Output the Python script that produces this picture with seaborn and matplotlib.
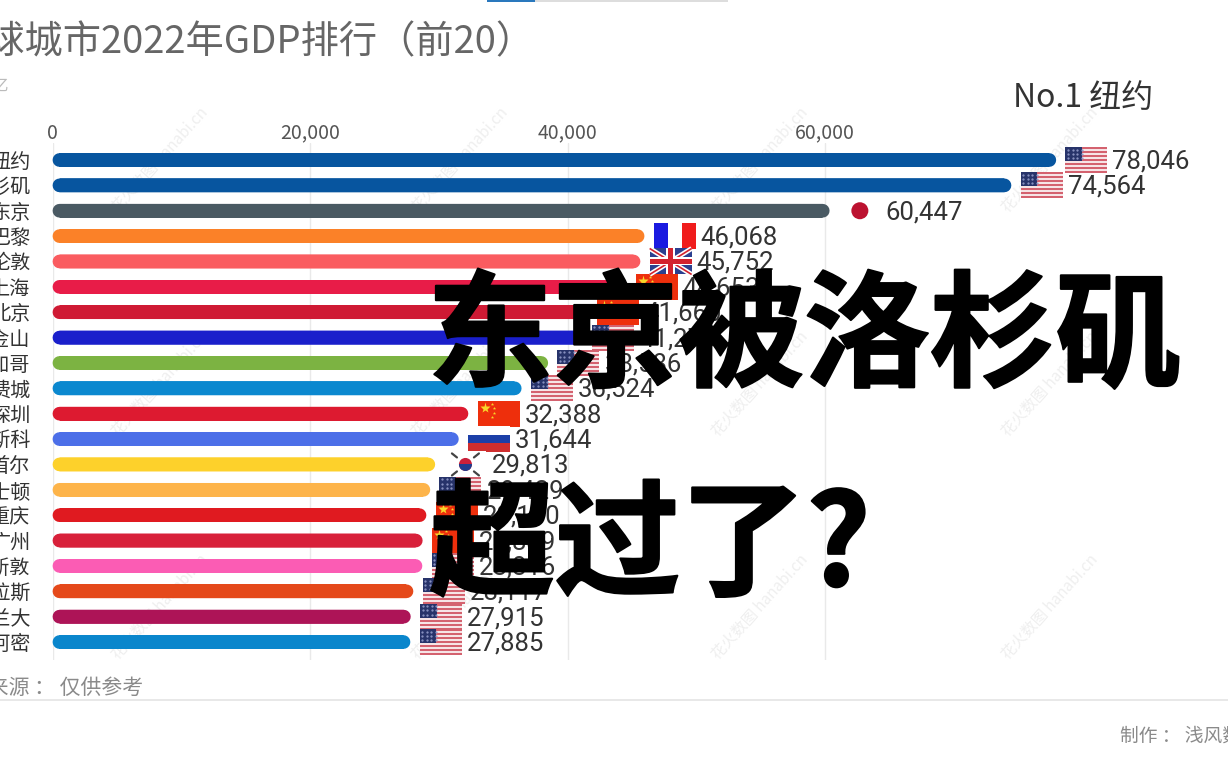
import matplotlib
matplotlib.use("Agg")
import matplotlib.pyplot as plt
import matplotlib.patheffects as pe
from matplotlib.patches import Rectangle, Circle
import pandas as pd
import seaborn as sns

cities = ["纽约", "洛杉矶", "东京", "巴黎", "伦敦", "上海", "北京", "旧金山", "芝加哥", "费城",
          "深圳", "莫斯科", "首尔", "波士顿", "重庆", "广州", "休斯敦", "达拉斯", "亚特兰大", "迈阿密"]
gdp = [78046, 74564, 60447, 46068, 45752, 44653, 41660, 41270, 38586, 36524,
       32388, 31644, 29813, 29429, 29130, 28839, 28816, 28117, 27915, 27885]
countries = ["us", "us", "jp", "fr", "uk", "cn", "cn", "us", "us", "us",
             "cn", "ru", "kr", "us", "cn", "cn", "us", "us", "us", "us"]
bar_colors = ["#07559f", "#07559f", "#4a5a63", "#fb8128", "#fa5c60", "#e81c48", "#cf1a34", "#1a1fcb",
              "#7cb342", "#0b88cf", "#dd1a30", "#4c6fe8", "#fdd12b", "#fdb44a", "#e01a20", "#d8203a",
              "#fb5cb4", "#e5491a", "#ad1457", "#0a86cc"]
x_ticks = [0, 20000, 40000, 60000]
x_tick_labels = ["0", "20,000", "40,000", "60,000"]
title = "全球城市2022年GDP排行（前20）"
unit = "单位：亿"
leader = "No.1 纽约"
source = "数据来源 ： 仅供参考"
credit = "制作 ： 浅风数据"
headline_1 = "东京被洛杉矶"
headline_2 = "超过了?"
watermark = "花火数图 hanabi.cn"

W, H = 1228, 768
CJK = ["Noto Sans CJK SC", "DejaVu Sans"]
sns.set_theme(style="white")
plt.rcParams["font.family"] = CJK

fig = plt.figure(figsize=(W / 100, H / 100), dpi=100, facecolor="white")
L, R, T, B = 52.6, 1228.0, 143.0, 660.0
ax = fig.add_axes([L / W, 1 - B / H, (R - L) / W, (B - T) / H])
df = pd.DataFrame({"city": cities, "gdp": gdp})
sns.barplot(data=df, x="gdp", y="city", hue="city", palette=bar_colors, order=cities, hue_order=cities,
            dodge=False, legend=False, width=0.52, orient="h", ax=ax, zorder=3, saturation=1)

px_per_x = 0.012875
px_per_y = 25.37
ax.set_xlim(0, (R - L) / px_per_x)
ax.set_ylim((B - 160) / px_per_y, (T - 160) / px_per_y)
ax.set_xticks(x_ticks, x_tick_labels)
ax.xaxis.tick_top()
ax.set_xlabel("")
ax.set_ylabel("")
ax.tick_params(axis="x", length=0, pad=-0.5, labelsize=14, labelcolor="#555555")
ax.tick_params(axis="y", length=0, pad=16, labelsize=14.5, labelcolor="#333333")
ax.grid(axis="x", color="#e9e9e9", lw=1)
ax.set_axisbelow(True)
for s in ax.spines.values():
    s.set_visible(False)
ax.patch.set_alpha(0)

# round the ends of every bar: shrink each rectangle to a core stroked with round ends
bar_px = 13.6
radius = bar_px / 2 / px_per_x
for p in ax.patches:
    x, y, w, h = p.get_x(), p.get_y(), p.get_width(), p.get_height()
    p.set_bounds(x + radius, y + h / 2 - 0.001, w - 2 * radius - 100, 0.002)
    p.set_edgecolor(p.get_facecolor())
    p.set_linewidth(bar_px * 72 / 100)
    p.set_joinstyle("round")
    p.set_capstyle("round")
    p.set_snap(False)
    p.set_clip_on(False)

# pixel overlay
ov = fig.add_axes([0, 0, 1, 1], zorder=5)
ov.set_xlim(0, W)
ov.set_ylim(H, 0)
ov.axis("off")
ov.patch.set_alpha(0)


def rect(x, y, w, h, c, z=6):
    ov.add_patch(Rectangle((x, y), w, h, fc=c, ec="none", zorder=z))


def draw_flag(kind, x, cy):
    fw, fh = 42, 26
    y = cy - fh / 2
    if kind == "us":
        n = 13
        for k in range(n):
            rect(x, y + k * fh / n, fw, fh / n, "#d4626f" if k % 2 == 0 else "#f6e4e6")
        rect(x, y, fw * 0.4, fh * 0.54, "#27336a")
        for a in range(4):
            for b in range(3):
                ov.plot(x + 2.5 + a * 4.6, y + 2.5 + b * 4.2, ".", ms=1.2, color="#8f98c6", zorder=6.5)
    elif kind == "cn":
        rect(x, y, fw, fh, "#ee2f0c")
        ov.plot(x + 7, y + 7, "*", ms=8, color="#f8d72a", mec="none", zorder=6.5)
        for dx, dy in [(14, 3), (16, 7), (16, 12), (14, 16)]:
            ov.plot(x + dx, y + dy, "*", ms=2.5, color="#f8d72a", mec="none", zorder=6.5)
    elif kind == "fr":
        rect(x, y, fw / 3, fh, "#1a1ae0")
        rect(x + fw / 3, y, fw / 3, fh, "white")
        rect(x + 2 * fw / 3, y, fw / 3, fh, "#f01c1c")
    elif kind == "uk":
        rect(x, y, fw, fh, "#2b3f8f")
        ov.plot([x, x + fw], [y, y + fh], color="white", lw=3.5, solid_capstyle="butt", zorder=6.2)
        ov.plot([x, x + fw], [y + fh, y], color="white", lw=3.5, solid_capstyle="butt", zorder=6.2)
        ov.plot([x, x + fw], [y, y + fh], color="#d3222e", lw=1.2, solid_capstyle="butt", zorder=6.3)
        ov.plot([x, x + fw], [y + fh, y], color="#d3222e", lw=1.2, solid_capstyle="butt", zorder=6.3)
        rect(x + fw / 2 - 4.5, y, 9, fh, "white", 6.4)
        rect(x, y + fh / 2 - 4, fw, 8, "white", 6.4)
        rect(x + fw / 2 - 2.5, y, 5, fh, "#d3222e", 6.5)
        rect(x, y + fh / 2 - 2.2, fw, 4.4, "#d3222e", 6.5)
    elif kind == "ru":
        rect(x, y, fw, fh / 3, "white")
        rect(x, y + fh / 3, fw, fh / 3, "#1c3fa8")
        rect(x, y + 2 * fh / 3, fw, fh / 3, "#cf2e2e")
    elif kind == "jp":
        ov.add_patch(Circle((x + fw / 2, cy), 8.5, fc="#bc1230", ec="none", zorder=6))
    elif kind == "kr":
        cx = x + fw / 2
        rect(x, y, fw, fh, "white")
        ov.add_patch(Circle((cx, cy), 6.5, fc="#c9203a", ec="none", zorder=6.2))
        ov.add_patch(Rectangle((cx - 6.5, cy), 13, 6.5, fc="#1f3d8f", ec="none", zorder=6.3,
                               clip_path=Circle((cx, cy), 6.5, transform=ov.transData)))
        for dx, dy in [(-11, -9), (11, -9), (-11, 9), (11, 9)]:
            s = 2 if dx * dy > 0 else -2
            ov.plot([cx + dx - 2.5, cx + dx + 2.5], [cy + dy - s, cy + dy + s],
                    color="#444444", lw=1.6, zorder=6.4)


for i, (v, kind) in enumerate(zip(gdp, countries)):
    px, py = ax.transData.transform((v, i))
    end_x = px * W / fig.bbox.width
    cy = H - py * H / fig.bbox.height
    draw_flag(kind, end_x + 8, cy)
    ov.text(end_x + 55, cy + 1.5, f"{v:,}", family=["Roboto", "DejaVu Sans"], fontsize=18.5, color="#333333",
            ha="left", va="center", zorder=8)

# watermarks, behind the bars
for wx in [160, 460, 760, 1050]:
    for wy in [160, 384, 607]:
        fig.text(wx / W, 1 - wy / H, watermark, fontsize=11, color="#efefef", rotation=48,
                 ha="center", va="center", zorder=-1)

# header / footer
ov.text(535, 43, title, fontsize=27.5, color="#666666", ha="right", va="center", zorder=8)
ov.text(9, 87, unit, fontsize=12, color="#bbbbbb", ha="right", va="center", zorder=8)
ov.text(1153, 98, leader, fontsize=23, color="#333333", ha="right", va="center", zorder=8)
ov.text(143, 688, source, fontsize=15, color="#8a8a8a", ha="right", va="center", zorder=8)
ov.text(1120, 736, credit, fontsize=13.5, color="#8a8a8a", ha="left", va="center", zorder=8)
rect(0, 699, W, 2, "#e8e8e8", 2)
rect(487, 0, 48, 2, "#2a78bd", 2)
rect(535, 0, 193, 1.5, "#dddddd", 2)

# headline overlay
stroke = [pe.withStroke(linewidth=1.5, foreground="black")]
ov.text(427, 340, headline_1, fontsize=90.5, fontweight="black", color="black", ha="left", va="center",
        zorder=10, path_effects=stroke)
ov.text(429, 549, headline_2, fontsize=90.5, fontweight="black", color="black", ha="left", va="center",
        zorder=10, path_effects=stroke)

fig.savefig("out.png", dpi=100)
